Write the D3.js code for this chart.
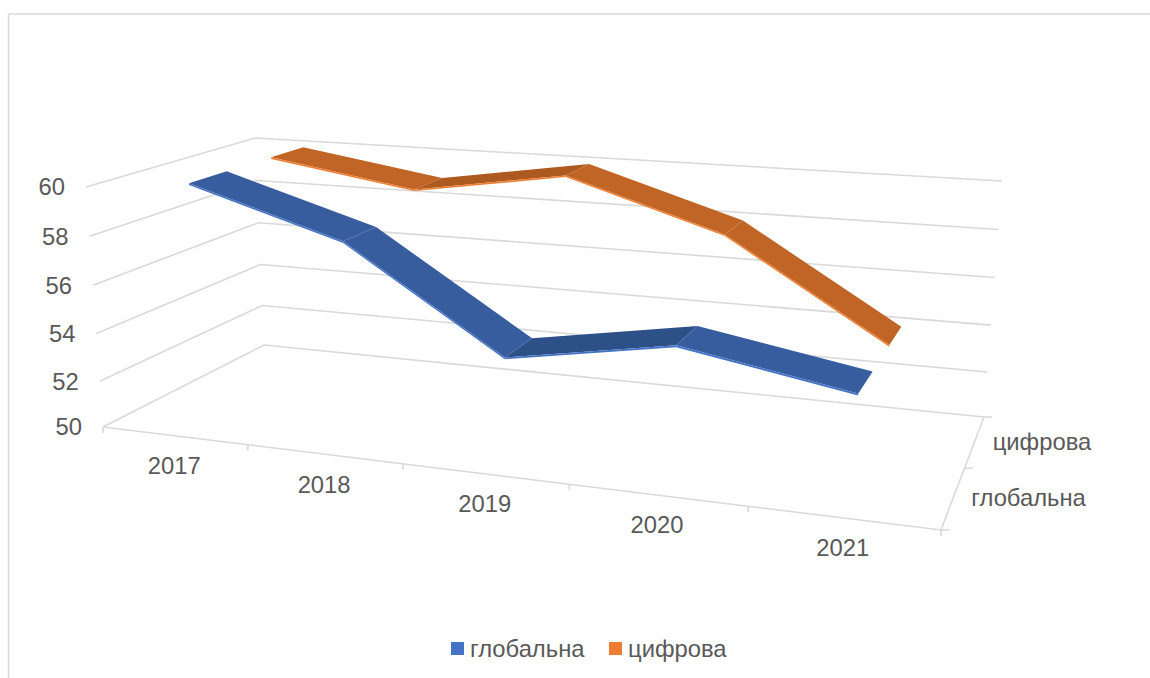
<!DOCTYPE html>
<html>
<head>
<meta charset="utf-8">
<script src="https://cdn.jsdelivr.net/npm/d3@7"></script>
<style>
  html, body { margin: 0; padding: 0; background: #fff; }
  text { font-family: "Liberation Sans", Arial, sans-serif; font-size: 23.8px; fill: #595959; }
</style>
</head>
<body>
<div id="chart"></div>
<script>
// chart data
var years = ["2017", "2018", "2019", "2020", "2021"];
var seriesNames = ["глобальна", "цифрова"];
var globalValues = [60, 58.1, 54.05, 55.15, 54];
var digitalValues = [60, 59, 60, 58, 54.05];
var valueTicks = [50, 52, 54, 56, 58, 60];

var width = 1150, height = 678;

var svg = d3.select("#chart").append("svg")
    .attr("width", width)
    .attr("height", height)
    .style("display", "block");

// the box of the 3d chart as it lands on the page
var floorQuad = [[103, 427], [941, 530], [984, 417], [264, 345]];
var topQuad = [[86, 187], [956, 248], [1002, 181], [255, 138]];

// unit square -> quad, perspective correct
function quadMap(q) {
    var x0 = q[0][0], y0 = q[0][1], x1 = q[1][0], y1 = q[1][1],
        x2 = q[2][0], y2 = q[2][1], x3 = q[3][0], y3 = q[3][1];
    var dx1 = x1 - x2, dx2 = x3 - x2, dx3 = x0 - x1 + x2 - x3;
    var dy1 = y1 - y2, dy2 = y3 - y2, dy3 = y0 - y1 + y2 - y3;
    var den = dx1 * dy2 - dx2 * dy1;
    var g = (dx3 * dy2 - dx2 * dy3) / den;
    var h = (dx1 * dy3 - dx3 * dy1) / den;
    var a = x1 - x0 + g * x1, b = x3 - x0 + h * x3;
    var d = y1 - y0 + g * y1, e = y3 - y0 + h * y3;
    return function (u, v) {
        var w = g * u + h * v + 1;
        return [(a * u + b * v + x0) / w, (d * u + e * v + y0) / w];
    };
}
var floorMap = quadMap(floorQuad);
var topMap = quadMap(topQuad);

// scales
var xScale = d3.scaleBand().domain(years).range([0, 1]);
// ribbons sit a touch behind the middle of their depth bands
var zScale = d3.scaleBand().domain(seriesNames).range([0.015, 1.015]).paddingInner(0.56).paddingOuter(0.28);
var zAxisScale = d3.scaleBand().domain(seriesNames).range([0, 1]);
// slight power: the upper gridlines sit a bit further apart in the picture
var yScale = d3.scalePow().exponent(1.03).domain([0, 10]).range([0, 1]);

function project(u, value, v) {
    var f = floorMap(u, v), t = topMap(u, v), k = yScale(value - 50);
    return [f[0] + (t[0] - f[0]) * k, f[1] + (t[1] - f[1]) * k];
}

var line = d3.line();
var polygon = d3.line().curve(d3.curveLinearClosed);
var gridColor = "#d9d9d9";

// outer frame
svg.append("path")
    .attr("d", line([[8.5, 678], [8.5, 14], [1150, 14]]))
    .attr("fill", "none").attr("stroke", gridColor).attr("stroke-width", 1.5);

// gridlines on the side and back walls
var grid = svg.append("g").attr("fill", "none").attr("stroke", gridColor).attr("stroke-width", 1.6);
valueTicks.forEach(function (val) {
    grid.append("path").attr("d", line([project(0, val, 0), project(0, val, 1), project(1, val, 1)]));
});

// floor edges
grid.append("path").attr("d", line([floorMap(0, 0), floorMap(1, 0), floorMap(1, 1)]));

// category ticks
d3.range(years.length + 1).forEach(function (i) {
    var p = floorMap(i / years.length, 0);
    grid.append("path").attr("d", line([p, [p[0], p[1] + 6]]));
});

// depth ticks
[0, 0.5, 1].forEach(function (v) {
    var p = floorMap(1, v);
    grid.append("path").attr("d", line([p, [p[0] + 8, p[1]]]));
});

// value labels
svg.append("g").selectAll("text").data(valueTicks).join("text")
    .attr("text-anchor", "end")
    .attr("dy", "0.35em")
    .attr("x", function (d) { return project(0, d, 0)[0] - 21; })
    .attr("y", function (d) { return project(0, d, 0)[1]; })
    .text(function (d) { return d; });

// year labels
svg.append("g").selectAll("text").data(years).join("text")
    .attr("text-anchor", "middle")
    .attr("dy", "0.35em")
    .attr("x", function (d) { return floorMap(xScale(d) + xScale.bandwidth() / 2, 0)[0]; })
    .attr("y", function (d) { return floorMap(xScale(d) + xScale.bandwidth() / 2, 0)[1] + 30; })
    .text(function (d) { return d; });

// series labels on the depth axis
svg.append("g").selectAll("text").data(seriesNames).join("text")
    .attr("dy", "0.35em")
    .attr("x", function (d) { return floorMap(1, zAxisScale(d) + zAxisScale.bandwidth() / 2)[0] + 18; })
    .attr("y", function (d) { return floorMap(1, zAxisScale(d) + zAxisScale.bandwidth() / 2)[1]; })
    .text(function (d) { return d; });

// ribbons, back one first
var ribbons = [
    { name: "цифрова", values: digitalValues, top: "#c06526", dark: "#ad5a21", edge: "#ed7d31" },
    { name: "глобальна", values: globalValues, top: "#385d9f", dark: "#2e5088", edge: "#4472c4" }
];

ribbons.forEach(function (s) {
    var g = svg.append("g").attr("class", "ribbon");
    var z0 = zScale(s.name), z1 = z0 + zScale.bandwidth();
    var u = function (i) { return xScale(years[i]) + xScale.bandwidth() / 2; };
    d3.range(s.values.length - 1).forEach(function (i) {
        var a = s.values[i], b = s.values[i + 1];
        g.append("path")
            .attr("d", polygon([project(u(i), a, z0), project(u(i + 1), b, z0), project(u(i + 1), b, z1), project(u(i), a, z1)]))
            .attr("fill", b > a ? s.dark : s.top);
        // thin front side of the ribbon
        g.append("path")
            .attr("d", polygon([project(u(i), a, z0), project(u(i + 1), b, z0), project(u(i + 1), b - 0.07, z0), project(u(i), a - 0.07, z0)]))
            .attr("fill", s.edge);
    });
});

// legend
var legend = svg.append("g");
var legendColors = ["#4472c4", "#ed7d31"];
var legendX = d3.scaleOrdinal().domain(seriesNames).range([451, 609]);
seriesNames.forEach(function (name, i) {
    legend.append("rect")
        .attr("x", legendX(name)).attr("y", 642)
        .attr("width", 13).attr("height", 13)
        .attr("fill", legendColors[i]);
    legend.append("text")
        .attr("x", legendX(name) + 19).attr("y", 657)
        .text(name);
});
</script>
</body>
</html>
